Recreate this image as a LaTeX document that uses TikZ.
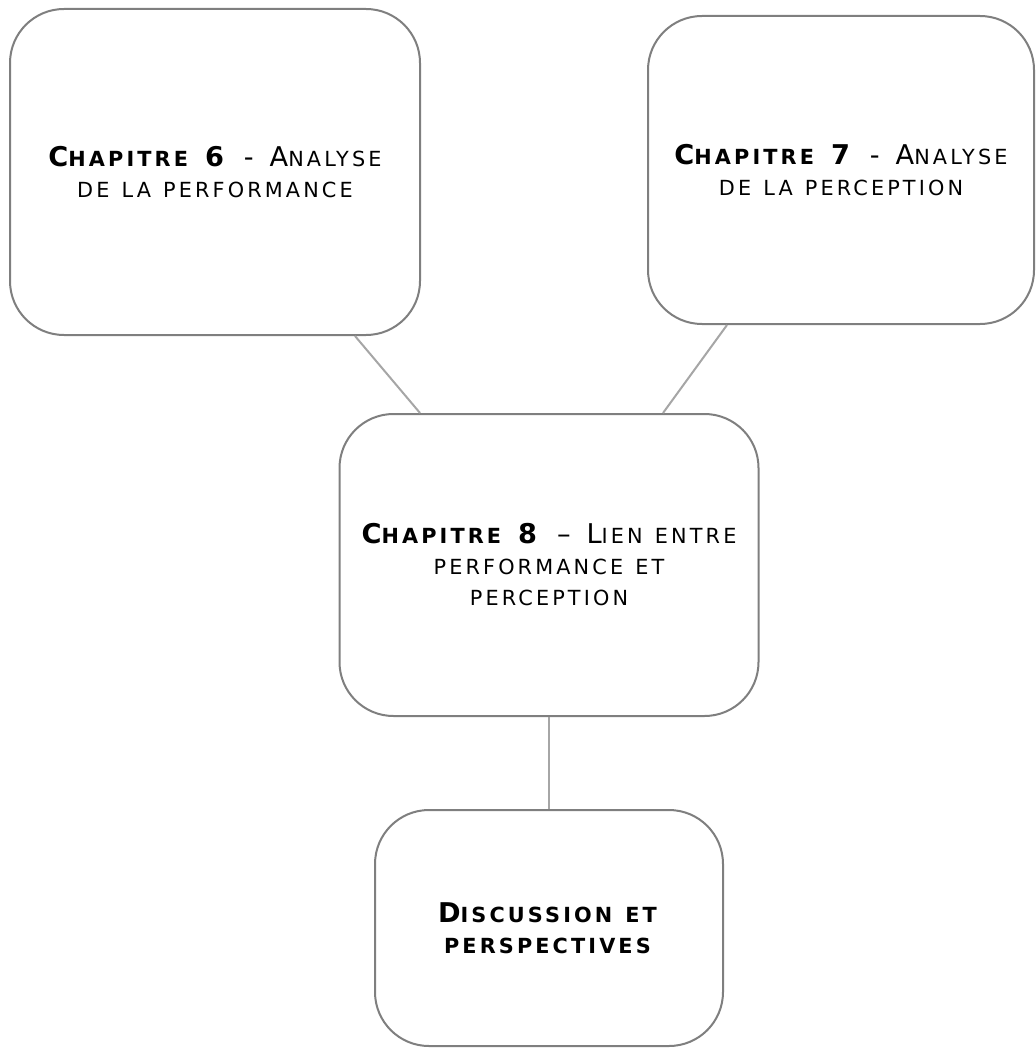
\documentclass[tikz,border=0pt]{standalone}
\usepackage{fontspec}
\setmainfont{DejaVu Sans}[LetterSpace=15, WordSpace=1.25]
\usepackage{xcolor}
\usetikzlibrary{positioning}
\definecolor{boxgray}{HTML}{7F7F7F}
\definecolor{linkgray}{HTML}{A6A6A6}
\newcommand{\petit}[1]{{\fontsize{10.4}{15.5}\selectfont #1}}
\tikzset{
  chapbox/.style={rectangle, draw=boxgray, line width=1pt, rounded corners=27pt, align=center, inner sep=0pt, font=\fontsize{13.6}{15.5}\selectfont},
  link/.style={draw=linkgray, line width=1pt},
}

\begin{document}
\begin{tikzpicture}[x=0.5pt, y=-0.5pt]
    \useasboundingbox (0,0) rectangle (1035,1048);
    \node[chapbox, minimum width=205pt, minimum height=163pt] (chap6) at (215,172)
      {\textbf{C\petit{HAPITRE} 6} - A\petit{NALYSE}\\ \petit{DE LA PERFORMANCE}};
    \node[chapbox, minimum width=193pt, minimum height=154pt] (chap7) at (841,170)
      {\textbf{C\petit{HAPITRE} 7} - A\petit{NALYSE}\\ \petit{DE LA PERCEPTION}};
    \node[chapbox, minimum width=209.5pt, minimum height=151pt] (chap8) at (549,565)
      {\textbf{C\petit{HAPITRE} 8} -- L\petit{IEN ENTRE}\\ \petit{PERFORMANCE ET}\\ \petit{PERCEPTION}};
    \node[chapbox, minimum width=174pt, minimum height=118pt] (discu) at (549,928)
      {\textbf{D\petit{ISCUSSION ET}}\\ \textbf{\petit{PERSPECTIVES}}};
    % liens entre chapitres
    \draw[link] ([xshift=70pt]chap6.south) -- ([xshift=-64.5pt]chap8.north);
    \draw[link] ([xshift=-57pt]chap7.south) -- ([xshift=57pt]chap8.north);
    \draw[link] (chap8.south) -- (discu.north);
\end{tikzpicture}
\end{document}
